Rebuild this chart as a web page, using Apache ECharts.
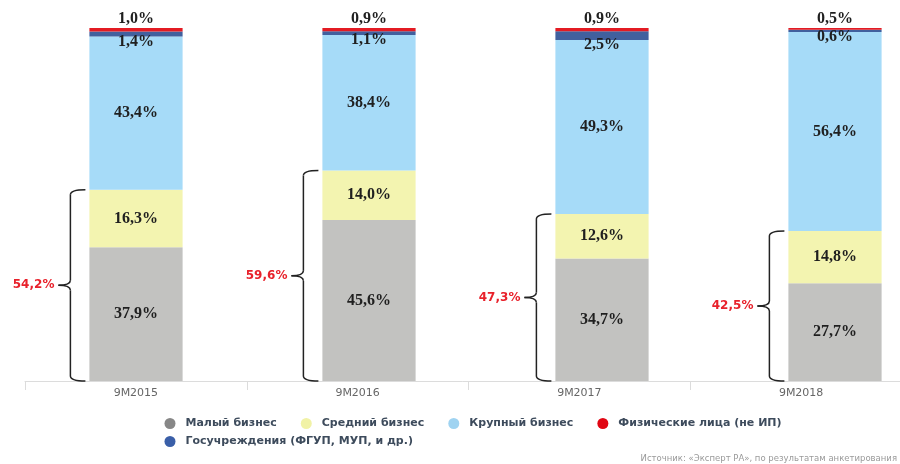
<!DOCTYPE html>
<html><head><meta charset="utf-8">
<script src="https://cdn.jsdelivr.net/npm/echarts@6/dist/echarts.min.js"></script>
<style>html,body{margin:0;padding:0;background:#fff}#c{width:900px;height:464px}</style>
</head><body><div id="c"></div>
<script>
const categories = ['9M2015', '9M2016', '9M2017', '9M2018'];
const smallBiz = [37.9, 45.6, 34.7, 27.7];
const mediumBiz = [16.3, 14.0, 12.6, 14.8];
const largeBiz = [43.4, 38.4, 49.3, 56.4];
const govBiz = [1.4, 1.1, 2.5, 0.6];
const persons = [1.0, 0.9, 0.9, 0.5];
const names = ['Малый бизнес', 'Средний бизнес', 'Крупный бизнес', 'Госучреждения (ФГУП, МУП, и др.)', 'Физические лица (не ИП)'];
const sourceText = 'Источник: «Эксперт РА», по результатам анкетирования';

const fmt = v => v.toFixed(1).replace('.', ',') + '%';
const smeSum = smallBiz.map((v, i) => [i, +(v + mediumBiz[i]).toFixed(1)]);

const labelBase = {show: true, formatter: p => fmt(p.value), fontFamily: 'Liberation Serif', fontWeight: 'bold', fontSize: 16, color: '#1f1f1f'};
function barSeries(name, data, color, label) {
  return {name, type: 'bar', stack: 'a', xAxisIndex: 1, yAxisIndex: 1, barWidth: '40%', data,
    itemStyle: {color}, label: Object.assign({}, labelBase, label), emphasis: {disabled: true}, animation: false};
}
const chart = echarts.init(document.getElementById('c'));
chart.setOption({
  animation: false,
  grid: [
    {left: 25, width: 887, top: 28, bottom: 83, containLabel: false, outerBoundsMode: 'none'},
    {left: 19.5, width: 932, top: 28, bottom: 83, containLabel: false, outerBoundsMode: 'none'}
  ],
  xAxis: [
    {type: 'category', gridIndex: 0, data: categories,
      axisLine: {show: true, lineStyle: {color: '#dcdcdc'}}, axisTick: {show: true, length: 9, lineStyle: {color: '#dcdcdc'}},
      axisLabel: {color: '#666', fontFamily: 'DejaVu Sans', fontSize: 11, margin: 7}},
    {type: 'category', gridIndex: 1, data: categories, show: false}
  ],
  yAxis: [
    {type: 'value', gridIndex: 0, min: 0, max: 100, show: false},
    {type: 'value', gridIndex: 1, min: 0, max: 100, show: false}
  ],
  legend: [
    {left: 164.5, top: 418, padding: 0, itemWidth: 21, itemHeight: 11, itemGap: 24, icon: 'circle',
      textStyle: {color: '#3d4b5c', fontFamily: 'DejaVu Sans', fontWeight: 'bold', fontSize: 11},
      data: [
        {name: names[0], itemStyle: {color: '#878787'}},
        {name: names[1], itemStyle: {color: '#f1f2a6'}},
        {name: names[2], itemStyle: {color: '#9fd3f1'}},
        {name: names[4], itemStyle: {color: '#e10613'}}
      ]},
    {left: 164.5, top: 436, padding: 0, itemWidth: 21, itemHeight: 11, icon: 'circle',
      textStyle: {color: '#3d4b5c', fontFamily: 'DejaVu Sans', fontWeight: 'bold', fontSize: 11},
      data: [{name: names[3], itemStyle: {color: '#3a5fa8'}}]}
  ],
  graphic: [{type: 'text', right: 3, top: 454, style: {text: sourceText, fill: '#9a9a9a', fontFamily: 'DejaVu Sans', fontSize: 8.5}}],
  series: [
    barSeries(names[0], smallBiz, '#c2c2c0', {position: 'inside'}),
    barSeries(names[1], mediumBiz, '#f3f4b0', {position: 'inside'}),
    barSeries(names[2], largeBiz, '#a6dbf8', {position: 'inside'}),
    barSeries(names[3], govBiz, '#41609e', {position: 'bottom', distance: -3}),
    barSeries(names[4], persons, '#e31b23', {position: 'top', distance: 1}),
    {type: 'custom', xAxisIndex: 1, yAxisIndex: 1, data: smeSum, encode: {x: 0, y: 1}, silent: true, animation: false, z: 5,
      renderItem: function (params, api) {
        const i = api.value(0), s = api.value(1);
        const top = api.coord([i, s]);
        const bot = api.coord([i, 0]);
        const half = api.size([1, 0])[0] * 0.4 / 2;
        const cx = top[0];
        const bx = cx - half - 19, hx = cx - half - 4;
        const yT = top[1], yB = bot[1], yM = (yT + yB) / 2;
        const r = 5, t = 12;
        const st = {stroke: '#222', lineWidth: 1.5, fill: null};
        return {type: 'group', children: [
          {type: 'bezierCurve', shape: {x1: hx, y1: yT, x2: bx, y2: yT + r, cpx1: bx, cpy1: yT}, style: st},
          {type: 'line', shape: {x1: bx, y1: yT + r, x2: bx, y2: yM - r}, style: st},
          {type: 'bezierCurve', shape: {x1: bx, y1: yM - r, x2: bx - t, y2: yM, cpx1: bx, cpy1: yM}, style: st},
          {type: 'bezierCurve', shape: {x1: bx - t, y1: yM, x2: bx, y2: yM + r, cpx1: bx, cpy1: yM}, style: st},
          {type: 'line', shape: {x1: bx, y1: yM + r, x2: bx, y2: yB - r}, style: st},
          {type: 'bezierCurve', shape: {x1: bx, y1: yB - r, x2: hx, y2: yB, cpx1: bx, cpy1: yB}, style: st},
          {type: 'text', style: {text: fmt(s), x: bx - t - 4, y: yM, align: 'right', verticalAlign: 'middle',
            fill: '#e8212b', fontFamily: 'DejaVu Sans', fontWeight: 'bold', fontSize: 12}}
        ]};
      }}
  ]
});
</script></body></html>
